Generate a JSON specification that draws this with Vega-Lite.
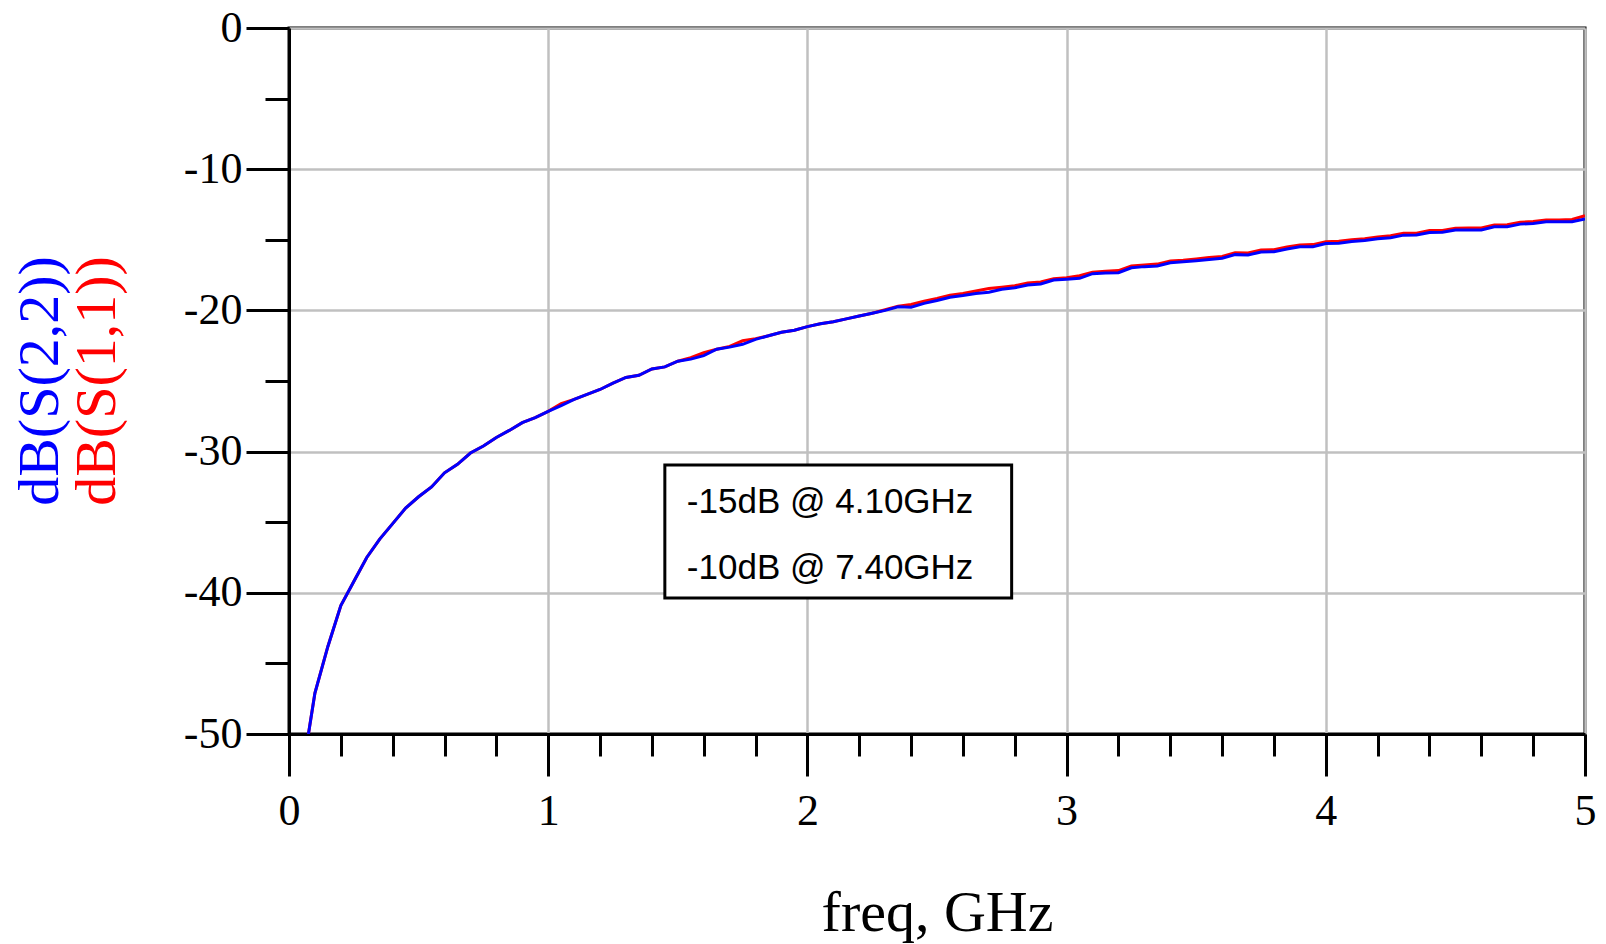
{
  "$schema": "https://vega.github.io/schema/vega-lite/v6.json",
  "width": 1296,
  "height": 706,
  "autosize": {"type": "none"},
  "padding": {"left": 289, "top": 28, "right": 21, "bottom": 210},
  "background": "white",
  "config": {
    "view": {"stroke": "black", "strokeWidth": 3},
    "axis": {"labelColor": "black", "tickColor": "black", "domainColor": "black", "titleColor": "black"}
  },
  "resolve": {"axis": {"x": "independent", "y": "independent"}},
  "title": {
    "text": "dB(S(2,2))",
    "subtitle": "dB(S(1,1))",
    "orient": "left",
    "anchor": "middle",
    "frame": "group",
    "font": "Liberation Serif",
    "fontSize": 58,
    "fontWeight": "normal",
    "color": "#0000ff",
    "subtitleFont": "Liberation Serif",
    "subtitleFontSize": 58,
    "subtitleColor": "#ff0000",
    "subtitlePadding": -1,
    "offset": 56
  },
  "datasets": {
    "s11": [
      {"freq": 0.075, "dB": -50.0}, {"freq": 0.10, "dB": -47.1}, {"freq": 0.15, "dB": -43.8}, {"freq": 0.20, "dB": -40.9},
      {"freq": 0.25, "dB": -39.2}, {"freq": 0.30, "dB": -37.5}, {"freq": 0.35, "dB": -36.2}, {"freq": 0.40, "dB": -35.1},
      {"freq": 0.45, "dB": -34.0}, {"freq": 0.50, "dB": -33.2}, {"freq": 0.55, "dB": -32.5}, {"freq": 0.60, "dB": -31.5},
      {"freq": 0.65, "dB": -30.9}, {"freq": 0.70, "dB": -30.1}, {"freq": 0.75, "dB": -29.6}, {"freq": 0.80, "dB": -29.0},
      {"freq": 0.85, "dB": -28.5}, {"freq": 0.90, "dB": -27.95}, {"freq": 0.95, "dB": -27.6}, {"freq": 1.00, "dB": -27.15},
      {"freq": 1.05, "dB": -26.6}, {"freq": 1.10, "dB": -26.3}, {"freq": 1.15, "dB": -25.95}, {"freq": 1.20, "dB": -25.6},
      {"freq": 1.25, "dB": -25.15}, {"freq": 1.30, "dB": -24.75}, {"freq": 1.35, "dB": -24.6}, {"freq": 1.40, "dB": -24.15},
      {"freq": 1.45, "dB": -24.0}, {"freq": 1.50, "dB": -23.6}, {"freq": 1.55, "dB": -23.35}, {"freq": 1.60, "dB": -23.0},
      {"freq": 1.65, "dB": -22.75}, {"freq": 1.70, "dB": -22.55}, {"freq": 1.75, "dB": -22.15}, {"freq": 1.80, "dB": -22.0},
      {"freq": 1.85, "dB": -21.8}, {"freq": 1.90, "dB": -21.55}, {"freq": 1.95, "dB": -21.4}, {"freq": 2.00, "dB": -21.15},
      {"freq": 2.05, "dB": -20.95}, {"freq": 2.10, "dB": -20.8}, {"freq": 2.15, "dB": -20.6}, {"freq": 2.20, "dB": -20.4},
      {"freq": 2.25, "dB": -20.2}, {"freq": 2.30, "dB": -19.95}, {"freq": 2.35, "dB": -19.7}, {"freq": 2.40, "dB": -19.58},
      {"freq": 2.45, "dB": -19.35}, {"freq": 2.50, "dB": -19.15}, {"freq": 2.55, "dB": -18.92}, {"freq": 2.60, "dB": -18.8},
      {"freq": 2.65, "dB": -18.62}, {"freq": 2.70, "dB": -18.45}, {"freq": 2.75, "dB": -18.36}, {"freq": 2.80, "dB": -18.25},
      {"freq": 2.85, "dB": -18.05}, {"freq": 2.90, "dB": -17.98}, {"freq": 2.95, "dB": -17.75}, {"freq": 3.00, "dB": -17.68},
      {"freq": 3.05, "dB": -17.55}, {"freq": 3.10, "dB": -17.3}, {"freq": 3.15, "dB": -17.22}, {"freq": 3.20, "dB": -17.18},
      {"freq": 3.25, "dB": -16.85}, {"freq": 3.30, "dB": -16.78}, {"freq": 3.35, "dB": -16.72}, {"freq": 3.40, "dB": -16.5},
      {"freq": 3.45, "dB": -16.45}, {"freq": 3.50, "dB": -16.36}, {"freq": 3.55, "dB": -16.25}, {"freq": 3.60, "dB": -16.18},
      {"freq": 3.65, "dB": -15.92}, {"freq": 3.70, "dB": -15.93}, {"freq": 3.75, "dB": -15.72}, {"freq": 3.80, "dB": -15.7},
      {"freq": 3.85, "dB": -15.5}, {"freq": 3.90, "dB": -15.36}, {"freq": 3.95, "dB": -15.34}, {"freq": 4.00, "dB": -15.14},
      {"freq": 4.05, "dB": -15.11}, {"freq": 4.10, "dB": -15.0}, {"freq": 4.15, "dB": -14.92}, {"freq": 4.20, "dB": -14.8},
      {"freq": 4.25, "dB": -14.72}, {"freq": 4.30, "dB": -14.54}, {"freq": 4.35, "dB": -14.53}, {"freq": 4.40, "dB": -14.35},
      {"freq": 4.45, "dB": -14.34}, {"freq": 4.50, "dB": -14.18}, {"freq": 4.55, "dB": -14.17}, {"freq": 4.60, "dB": -14.16},
      {"freq": 4.65, "dB": -13.95}, {"freq": 4.70, "dB": -13.94}, {"freq": 4.75, "dB": -13.76}, {"freq": 4.80, "dB": -13.71},
      {"freq": 4.85, "dB": -13.6}, {"freq": 4.90, "dB": -13.59}, {"freq": 4.95, "dB": -13.56}, {"freq": 5.00, "dB": -13.29}
    ],
    "s22": [
      {"freq": 0.075, "dB": -50.0}, {"freq": 0.10, "dB": -47.1}, {"freq": 0.15, "dB": -43.8}, {"freq": 0.20, "dB": -40.9},
      {"freq": 0.25, "dB": -39.2}, {"freq": 0.30, "dB": -37.5}, {"freq": 0.35, "dB": -36.2}, {"freq": 0.40, "dB": -35.1},
      {"freq": 0.45, "dB": -34.0}, {"freq": 0.50, "dB": -33.2}, {"freq": 0.55, "dB": -32.5}, {"freq": 0.60, "dB": -31.5},
      {"freq": 0.65, "dB": -30.9}, {"freq": 0.70, "dB": -30.1}, {"freq": 0.75, "dB": -29.6}, {"freq": 0.80, "dB": -29.0},
      {"freq": 0.85, "dB": -28.5}, {"freq": 0.90, "dB": -27.95}, {"freq": 0.95, "dB": -27.6}, {"freq": 1.00, "dB": -27.15},
      {"freq": 1.05, "dB": -26.75}, {"freq": 1.10, "dB": -26.3}, {"freq": 1.15, "dB": -25.95}, {"freq": 1.20, "dB": -25.6},
      {"freq": 1.25, "dB": -25.15}, {"freq": 1.30, "dB": -24.75}, {"freq": 1.35, "dB": -24.6}, {"freq": 1.40, "dB": -24.15},
      {"freq": 1.45, "dB": -24.0}, {"freq": 1.50, "dB": -23.6}, {"freq": 1.55, "dB": -23.45}, {"freq": 1.60, "dB": -23.2},
      {"freq": 1.65, "dB": -22.75}, {"freq": 1.70, "dB": -22.6}, {"freq": 1.75, "dB": -22.4}, {"freq": 1.80, "dB": -22.05},
      {"freq": 1.85, "dB": -21.8}, {"freq": 1.90, "dB": -21.55}, {"freq": 1.95, "dB": -21.4}, {"freq": 2.00, "dB": -21.15},
      {"freq": 2.05, "dB": -20.95}, {"freq": 2.10, "dB": -20.8}, {"freq": 2.15, "dB": -20.6}, {"freq": 2.20, "dB": -20.4},
      {"freq": 2.25, "dB": -20.2}, {"freq": 2.30, "dB": -20.0}, {"freq": 2.35, "dB": -19.75}, {"freq": 2.40, "dB": -19.78},
      {"freq": 2.45, "dB": -19.5}, {"freq": 2.50, "dB": -19.3}, {"freq": 2.55, "dB": -19.07}, {"freq": 2.60, "dB": -18.95},
      {"freq": 2.65, "dB": -18.8}, {"freq": 2.70, "dB": -18.72}, {"freq": 2.75, "dB": -18.5}, {"freq": 2.80, "dB": -18.4},
      {"freq": 2.85, "dB": -18.2}, {"freq": 2.90, "dB": -18.13}, {"freq": 2.95, "dB": -17.85}, {"freq": 3.00, "dB": -17.8},
      {"freq": 3.05, "dB": -17.73}, {"freq": 3.10, "dB": -17.4}, {"freq": 3.15, "dB": -17.35}, {"freq": 3.20, "dB": -17.33},
      {"freq": 3.25, "dB": -16.98}, {"freq": 3.30, "dB": -16.9}, {"freq": 3.35, "dB": -16.85}, {"freq": 3.40, "dB": -16.62},
      {"freq": 3.45, "dB": -16.55}, {"freq": 3.50, "dB": -16.48}, {"freq": 3.55, "dB": -16.4}, {"freq": 3.60, "dB": -16.31},
      {"freq": 3.65, "dB": -16.05}, {"freq": 3.70, "dB": -16.08}, {"freq": 3.75, "dB": -15.86}, {"freq": 3.80, "dB": -15.84},
      {"freq": 3.85, "dB": -15.65}, {"freq": 3.90, "dB": -15.5}, {"freq": 3.95, "dB": -15.49}, {"freq": 4.00, "dB": -15.27},
      {"freq": 4.05, "dB": -15.25}, {"freq": 4.10, "dB": -15.12}, {"freq": 4.15, "dB": -15.05}, {"freq": 4.20, "dB": -14.92},
      {"freq": 4.25, "dB": -14.85}, {"freq": 4.30, "dB": -14.67}, {"freq": 4.35, "dB": -14.66}, {"freq": 4.40, "dB": -14.48},
      {"freq": 4.45, "dB": -14.47}, {"freq": 4.50, "dB": -14.31}, {"freq": 4.55, "dB": -14.3}, {"freq": 4.60, "dB": -14.3},
      {"freq": 4.65, "dB": -14.08}, {"freq": 4.70, "dB": -14.07}, {"freq": 4.75, "dB": -13.89}, {"freq": 4.80, "dB": -13.84},
      {"freq": 4.85, "dB": -13.73}, {"freq": 4.90, "dB": -13.72}, {"freq": 4.95, "dB": -13.72}, {"freq": 5.00, "dB": -13.53}
    ],
    "markerBox": [
      {"f1": 1.45, "f2": 2.788, "d1": -30.95, "d2": -40.37}
    ],
    "markerText": [
      {"freq": 1.535, "dB": -33.55, "label": "-15dB @ 4.10GHz"},
      {"freq": 1.535, "dB": -38.24, "label": "-10dB @ 7.40GHz"}
    ]
  },
  "layer": [
    {
      "data": {"name": "s11"},
      "mark": {"type": "line", "color": "#ff0000", "strokeWidth": 3, "clip": true},
      "encoding": {
        "x": {
          "field": "freq", "type": "quantitative",
          "scale": {"domain": [0, 5], "nice": false, "zero": false},
          "axis": {
            "orient": "bottom", "values": [0, 1, 2, 3, 4, 5], "labelExpr": "'' + datum.value",
            "tickSize": 42, "tickWidth": 3, "domainWidth": 3,
            "grid": true, "gridColor": "#c0c0c0", "gridWidth": 2.5,
            "labelFont": "Liberation Serif", "labelFontSize": 44, "labelPadding": 13,
            "labelFlush": false, "labelOverlap": false,
            "title": "freq, GHz", "titleFont": "Liberation Serif", "titleFontSize": 58,
            "titleFontWeight": "normal", "titlePadding": 51
          }
        },
        "y": {
          "field": "dB", "type": "quantitative",
          "scale": {"domain": [-50, 0], "nice": false, "zero": false},
          "axis": {
            "orient": "left", "values": [0, -10, -20, -30, -40, -50], "labelExpr": "'' + datum.value",
            "tickSize": 43, "tickWidth": 3, "domainWidth": 3,
            "grid": true, "gridColor": "#c0c0c0", "gridWidth": 2.5,
            "labelFont": "Liberation Serif", "labelFontSize": 44, "labelPadding": 4,
            "labelFlush": false, "labelOverlap": false, "title": null
          }
        }
      }
    },
    {
      "data": {"name": "s22"},
      "mark": {"type": "line", "color": "#0000ff", "strokeWidth": 3, "clip": true},
      "encoding": {
        "x": {
          "field": "freq", "type": "quantitative",
          "scale": {"domain": [0, 5], "nice": false, "zero": false},
          "axis": {
            "orient": "bottom",
            "values": [0.2, 0.4, 0.6, 0.8, 1.2, 1.4, 1.6, 1.8, 2.2, 2.4, 2.6, 2.8, 3.2, 3.4, 3.6, 3.8, 4.2, 4.4, 4.6, 4.8],
            "tickSize": 22, "tickWidth": 3, "domain": false, "grid": false,
            "labels": false, "title": null
          }
        },
        "y": {
          "field": "dB", "type": "quantitative",
          "scale": {"domain": [-50, 0], "nice": false, "zero": false},
          "axis": {
            "orient": "left", "values": [-5, -15, -25, -35, -45],
            "tickSize": 24, "tickWidth": 3, "domain": false, "grid": false,
            "labels": false, "title": null
          }
        }
      }
    },
    {
      "data": {"name": "markerBox"},
      "mark": {"type": "rect", "fill": "white", "stroke": "black", "strokeWidth": 3},
      "encoding": {
        "x": {"field": "f1", "type": "quantitative", "axis": null},
        "x2": {"field": "f2"},
        "y": {"field": "d1", "type": "quantitative", "axis": null},
        "y2": {"field": "d2"}
      }
    },
    {
      "data": {"name": "markerText"},
      "mark": {"type": "text", "align": "left", "baseline": "middle", "font": "Liberation Sans", "fontSize": 35, "color": "black"},
      "encoding": {
        "x": {"field": "freq", "type": "quantitative", "axis": null},
        "y": {"field": "dB", "type": "quantitative", "axis": null},
        "text": {"field": "label"}
      }
    }
  ]
}
